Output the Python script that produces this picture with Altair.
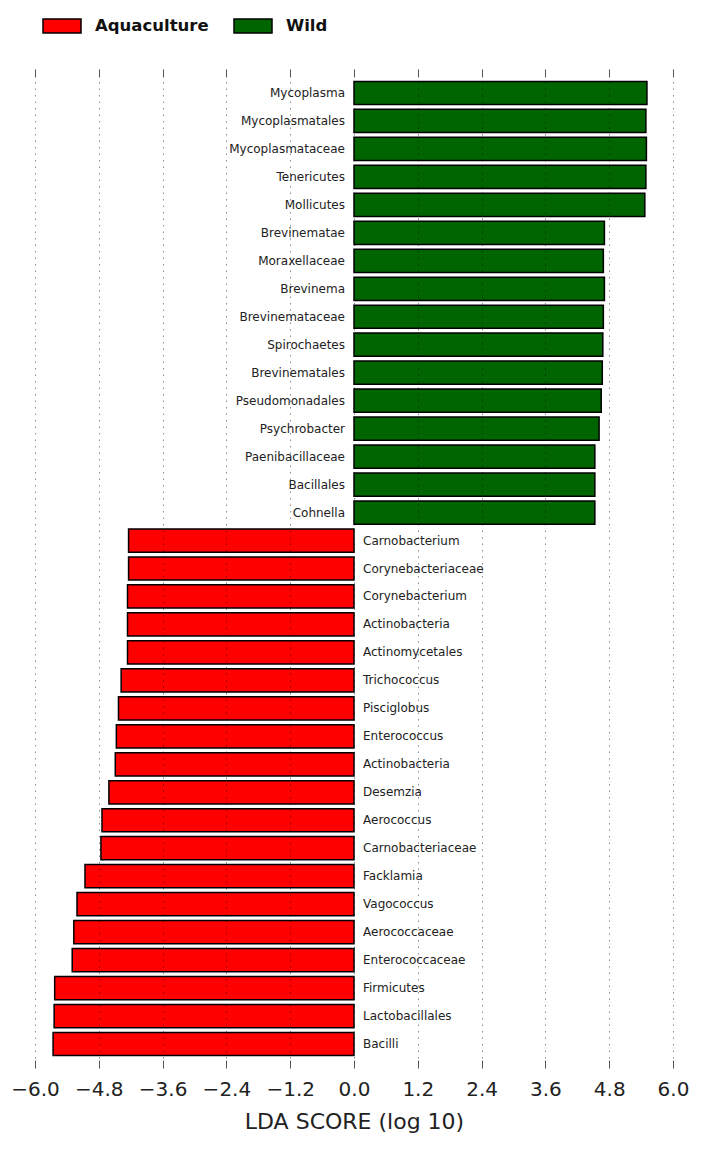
import altair as alt
import pandas as pd

taxa = ["Mycoplasma", "Mycoplasmatales", "Mycoplasmataceae", "Tenericutes", "Mollicutes",
        "Brevinematae", "Moraxellaceae", "Brevinema", "Brevinemataceae", "Spirochaetes",
        "Brevinematales", "Pseudomonadales", "Psychrobacter", "Paenibacillaceae", "Bacillales",
        "Cohnella",
        "Carnobacterium", "Corynebacteriaceae", "Corynebacterium", "Actinobacteria",
        "Actinomycetales", "Trichococcus", "Pisciglobus", "Enterococcus", "Actinobacteria",
        "Desemzia", "Aerococcus", "Carnobacteriaceae", "Facklamia", "Vagococcus",
        "Aerococcaceae", "Enterococcaceae", "Firmicutes", "Lactobacillales", "Bacilli"]
lda = [5.51, 5.49, 5.50, 5.49, 5.47, 4.71, 4.69, 4.71, 4.69, 4.68, 4.67, 4.65, 4.61,
       4.53, 4.53, 4.53,
       -4.24, -4.24, -4.26, -4.26, -4.26, -4.38, -4.43, -4.47, -4.49, -4.61, -4.74,
       -4.76, -5.06, -5.21, -5.27, -5.30, -5.63, -5.64, -5.66]
groups = ["Wild"] * 16 + ["Aquaculture"] * 19
group_order = ["Aquaculture", "Wild"]
group_colors = ["#ff0000", "#006400"]
x_ticks = [-6.0, -4.8, -3.6, -2.4, -1.2, 0.0, 1.2, 2.4, 3.6, 4.8, 6.0]

df = pd.DataFrame({"rank": list(range(len(taxa))), "taxon": taxa, "lda": lda,
                   "group": groups, "zero": [0.0] * len(taxa)})

x_scale = alt.Scale(domain=[-6, 6], nice=False, zero=False)
y_enc = alt.Y("rank:O", axis=None, scale=alt.Scale(paddingInner=0.17, paddingOuter=0.085))

bars = alt.Chart(df).mark_bar(stroke="black", strokeWidth=1.5).encode(
    x=alt.X("lda:Q", scale=x_scale,
            axis=alt.Axis(orient="bottom", values=x_ticks, format=".1f",
                          title="LDA SCORE (log 10)", grid=True, gridDash=[1.5, 5],
                          gridColor="#000000", gridOpacity=0.45, gridWidth=1,
                          domain=False, tickColor="#555555", tickSize=8, offset=2,
                          labelFontSize=20, labelFont="DejaVu Sans", labelColor="#222222",
                          labelPadding=11, labelOverlap=False, labelFlush=False,
                          titleFontSize=22, titleFont="DejaVu Sans", titleFontWeight="normal",
                          titleColor="#222222", titlePadding=12, zindex=1)),
    x2="zero:Q",
    y=y_enc,
    color=alt.Color("group:N", scale=alt.Scale(domain=group_order, range=group_colors),
                    legend=alt.Legend(orient="none", legendX=7, legendY=-73,
                                      direction="horizontal", title=None,
                                      symbolType="M-1,-0.368L1,-0.368L1,0.368L-1,0.368Z",
                                      symbolSize=1444, symbolStrokeColor="black",
                                      symbolStrokeWidth=1.5, symbolOpacity=1,
                                      labelFontSize=16.5, labelFontWeight="bold",
                                      labelFont="DejaVu Sans", labelColor="#111111",
                                      labelOffset=13, columnPadding=22)),
)

top_axis = alt.Chart(df).mark_point(opacity=0).encode(
    x=alt.X("lda:Q", scale=x_scale,
            axis=alt.Axis(orient="top", values=x_ticks, labels=False, title=None,
                          grid=False, domain=False, tickColor="#555555", tickSize=8,
                          offset=2)),
    y=y_enc,
)

wild_text = alt.Chart(df).transform_filter("datum.group == 'Wild'").mark_text(
    align="right", baseline="middle", dx=-9, fontSize=12, font="DejaVu Sans", color="#222222"
).encode(x=alt.X("zero:Q", scale=x_scale, axis=None), y=y_enc, text="taxon:N")

aqua_text = alt.Chart(df).transform_filter("datum.group == 'Aquaculture'").mark_text(
    align="left", baseline="middle", dx=9, fontSize=12, font="DejaVu Sans", color="#222222"
).encode(x=alt.X("zero:Q", scale=x_scale, axis=None), y=y_enc, text="taxon:N")

chart = alt.layer(bars, top_axis, wild_text, aqua_text).resolve_axis(x="independent").properties(
    width=638, height=979,
    autosize=alt.AutoSizeParams(type="none"),
    padding={"left": 27, "top": 71, "right": 20, "bottom": 90},
).configure_view(stroke=None)

chart.save("out.html", embed_options={"renderer": "svg", "actions": False})
